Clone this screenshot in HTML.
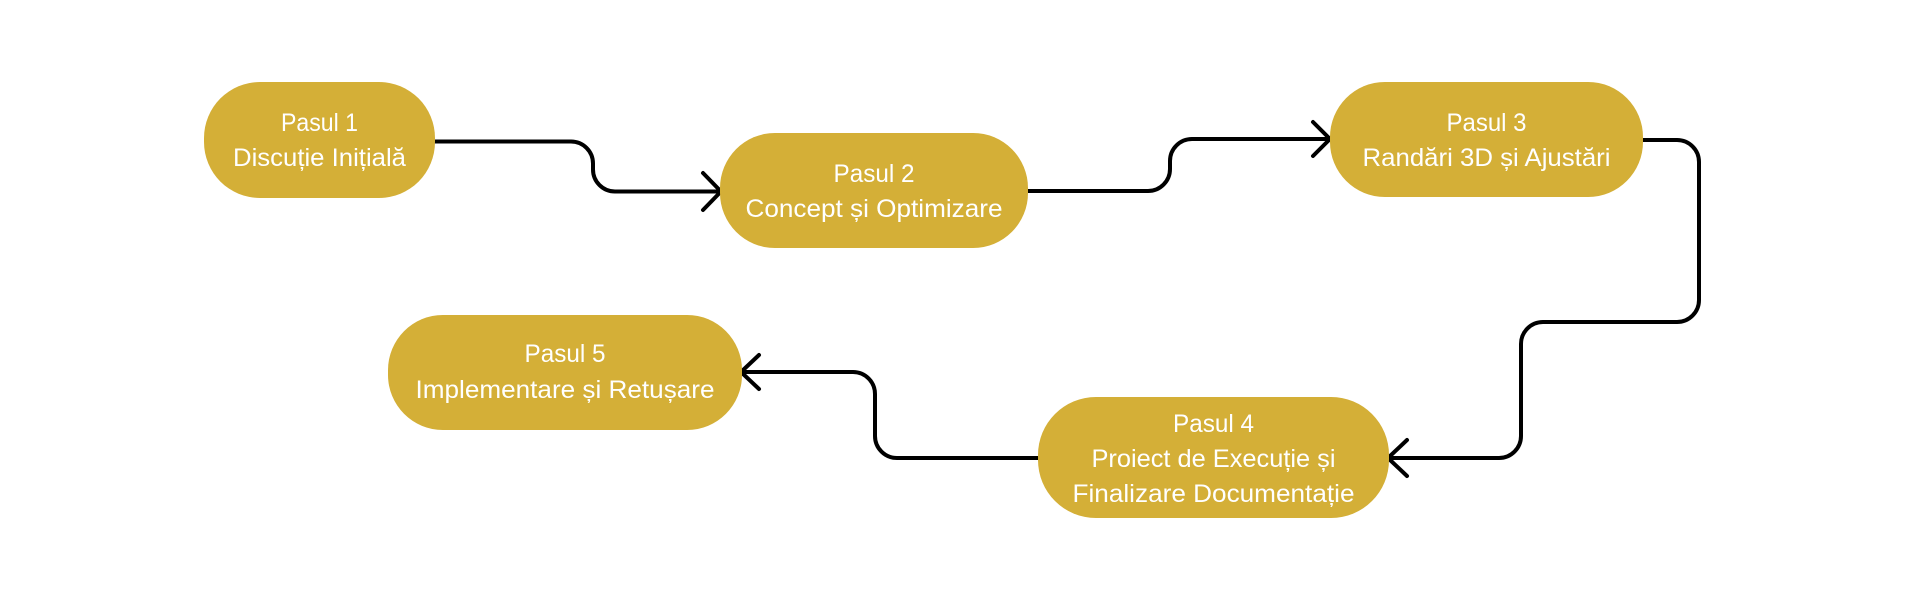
<!DOCTYPE html>
<html>
<head>
<meta charset="utf-8">
<style>
  html, body { margin: 0; padding: 0; background: #ffffff; }
  svg { display: block; }
  text { font-family: "Liberation Sans", "DejaVu Sans", sans-serif; font-size: 25px; fill: #ffffff; }
</style>
</head>
<body>
<svg width="1920" height="600" viewBox="0 0 1920 600" xmlns="http://www.w3.org/2000/svg">
  <rect x="0" y="0" width="1920" height="600" fill="#ffffff"/>

  <!-- Connectors -->
  <g fill="none" stroke="#000000" stroke-width="4" stroke-linecap="round" stroke-linejoin="round">
    <!-- 1 -> 2 -->
    <path d="M435 141.5 H571 A22 22 0 0 1 593 163.5 V169.5 A22 22 0 0 0 615 191.5 H721"/>
    <path d="M703 173 L721 191.5 L703 210"/>
    <!-- 2 -> 3 -->
    <path d="M1028 191 H1148 A22 22 0 0 0 1170 169 V161 A22 22 0 0 1 1192 139 H1330"/>
    <path d="M1313 122 L1330 139 L1313 156"/>
    <!-- 3 -> 4 -->
    <path d="M1643 140 H1677 A22 22 0 0 1 1699 162 V300 A22 22 0 0 1 1677 322 H1543 A22 22 0 0 0 1521 344 V436 A22 22 0 0 1 1499 458 H1388"/>
    <path d="M1407 440 L1388 458 L1407 476"/>
    <!-- 4 -> 5 -->
    <path d="M1040 458 H897 A22 22 0 0 1 875 436 V394 A22 22 0 0 0 853 372 H742"/>
    <path d="M759 355 L741 372 L759 389"/>
  </g>

  <!-- Nodes -->
  <g fill="#D4AF37">
    <rect x="204" y="82" width="231" height="116" rx="56" ry="56"/>
    <rect x="720" y="133" width="308" height="115" rx="55" ry="55"/>
    <rect x="1330" y="82" width="313" height="115" rx="55" ry="55"/>
    <rect x="1038" y="397" width="351" height="121" rx="58" ry="58"/>
    <rect x="388" y="315" width="354" height="115" rx="55" ry="55"/>
  </g>

  <!-- Labels -->
  <g text-anchor="middle">
    <text x="319.5" y="131" textLength="77" lengthAdjust="spacingAndGlyphs">Pasul 1</text>
    <text x="319.5" y="166" textLength="173" lengthAdjust="spacingAndGlyphs">Discuție Inițială</text>

    <text x="874" y="182" textLength="81" lengthAdjust="spacingAndGlyphs">Pasul 2</text>
    <text x="874" y="217" textLength="257" lengthAdjust="spacingAndGlyphs">Concept și Optimizare</text>

    <text x="1486.5" y="131" textLength="80" lengthAdjust="spacingAndGlyphs">Pasul 3</text>
    <text x="1486.5" y="166" textLength="248" lengthAdjust="spacingAndGlyphs">Randări 3D și Ajustări</text>

    <text x="1213.5" y="432" textLength="81" lengthAdjust="spacingAndGlyphs">Pasul 4</text>
    <text x="1213.5" y="467" textLength="244" lengthAdjust="spacingAndGlyphs">Proiect de Execuție și</text>
    <text x="1213.5" y="502" textLength="282" lengthAdjust="spacingAndGlyphs">Finalizare Documentație</text>

    <text x="565" y="362" textLength="81" lengthAdjust="spacingAndGlyphs">Pasul 5</text>
    <text x="565" y="398" textLength="299" lengthAdjust="spacingAndGlyphs">Implementare și Retușare</text>
  </g>
</svg>
</body>
</html>
